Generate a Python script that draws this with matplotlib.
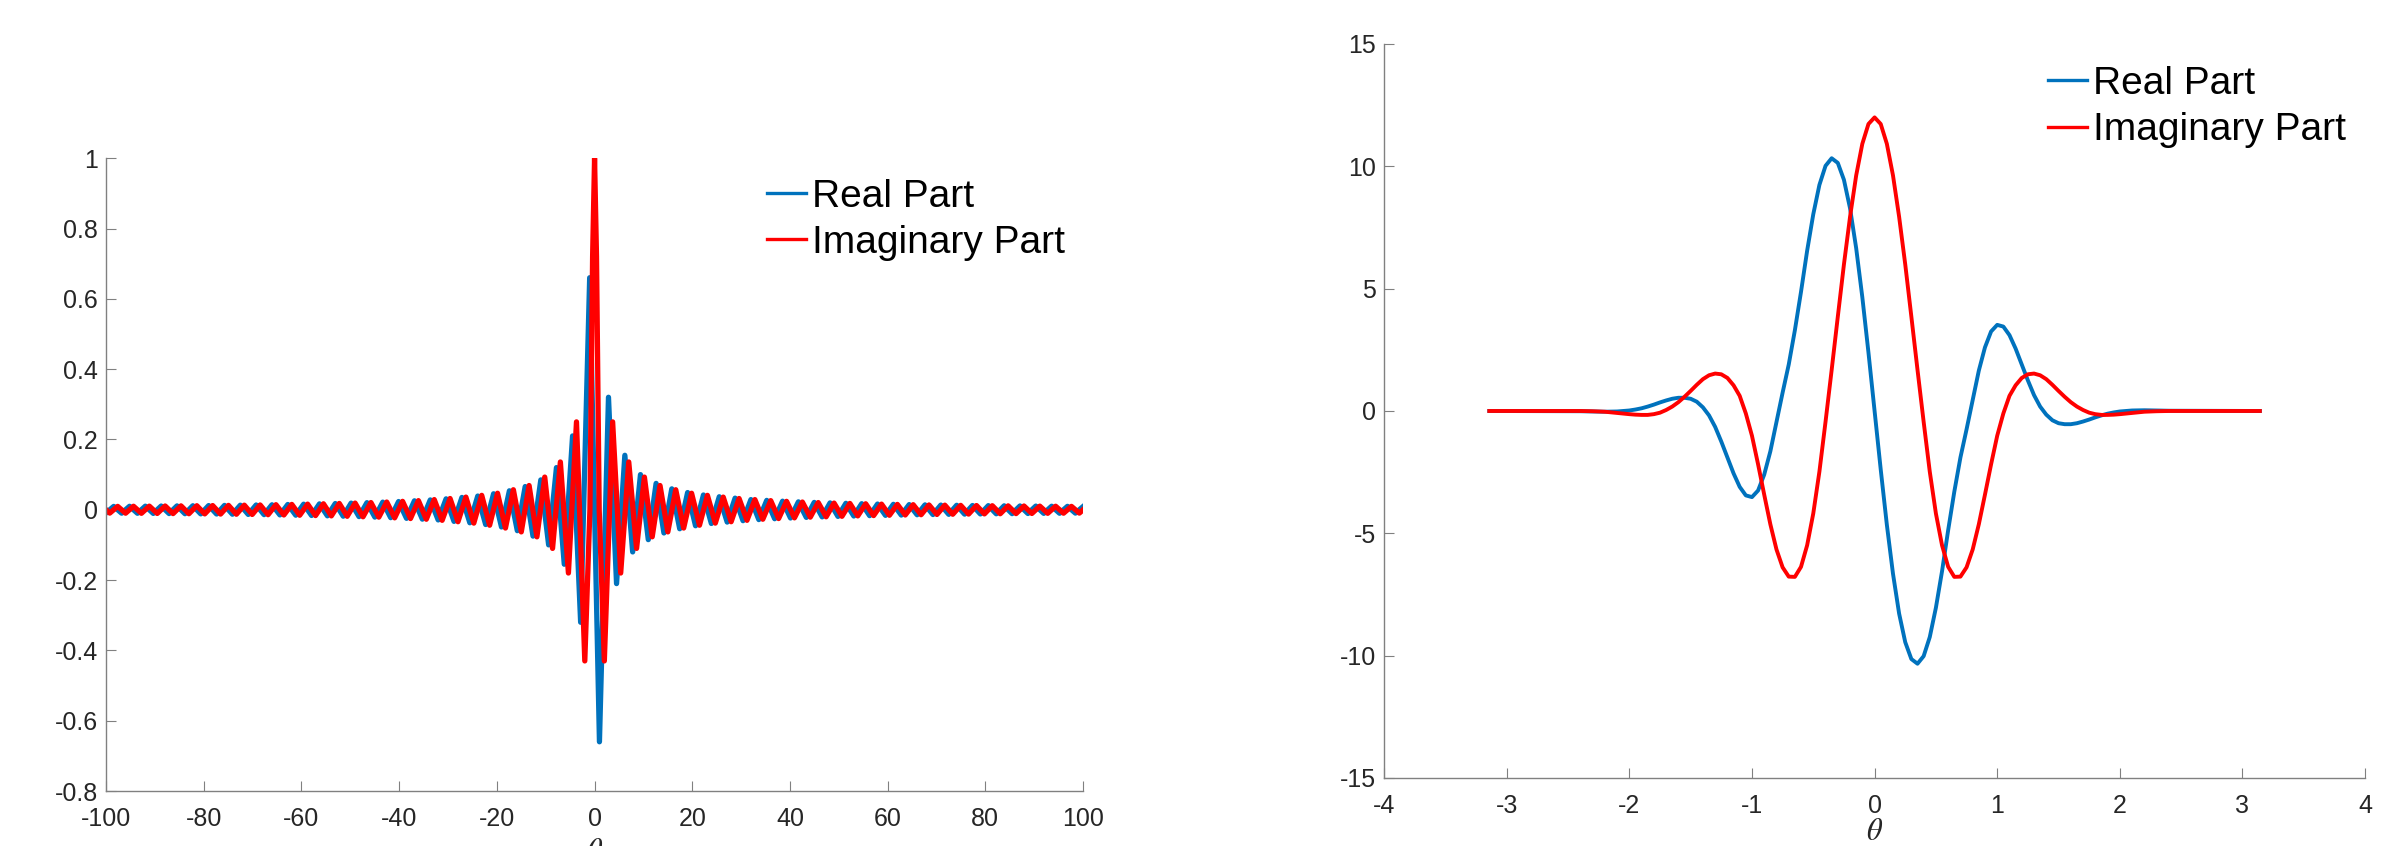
import numpy as np
import matplotlib
matplotlib.use("Agg")
import matplotlib.pyplot as plt

plt.rcParams["font.family"] = ["Liberation Sans", "DejaVu Sans"]
plt.rcParams["mathtext.fontset"] = "stix"
plt.rcParams["axes.unicode_minus"] = False

BLUE = "#0072BD"
RED = "#FF0000"
AXC = "#808080"
TXT = "#262626"

# ---- left panel: extrema (x >= 0 half, mirrored) ----
# imaginary part (even)
imag_core_x = [0.0, 0.4, 0.95, 2.0, 3.7, 5.35, 7.0, 8.6, 10.2, 11.8, 13.4]
imag_core_y = [1.0, 0.72, 0.0, -0.43, 0.25, -0.18, 0.136, -0.11, 0.093, -0.077, 0.069]
imag_tail_start = 15.0
imag_tail = [-0.063, 0.057, -0.052, 0.047, -0.044, 0.041, -0.038, 0.036, -0.034, 0.032,
             -0.030, 0.029, -0.027, 0.026, -0.025, 0.024, -0.023, 0.022, -0.021, 0.0205,
             -0.020, 0.019, -0.0186, 0.018, -0.0174, 0.017, -0.0165, 0.016, -0.0156, 0.0152,
             -0.0148, 0.0144, -0.0141, 0.0137, -0.0134, 0.0131, -0.0128, 0.0125, -0.0123, 0.012,
             -0.0118, 0.0115, -0.0113, 0.0111, -0.0109, 0.0107, -0.0105, 0.0103, -0.0101, 0.010,
             -0.0098, 0.0096, -0.0095]
imag_end = 0.0

# real part (odd)
real_core_x = [0.0, 1.0, 2.85, 4.5, 6.2, 7.8, 9.4, 11.0, 12.6, 14.2]
real_core_y = [0.0, -0.66, 0.32, -0.21, 0.155, -0.12, 0.10, -0.085, 0.075, -0.066]
real_tail_start = 15.81
real_tail = [0.0595, -0.054, 0.049, -0.0455, 0.042, -0.039, 0.037, -0.035, 0.033, -0.031,
             0.029, -0.028, 0.0267, -0.0255, 0.0244, -0.0234, 0.0225, -0.0217, 0.0209, -0.0202,
             0.0195, -0.0189, 0.0183, -0.0177, 0.0172, -0.0167, 0.0162, -0.0158, 0.0154, -0.015,
             0.0146, -0.0142, 0.0139, -0.0136, 0.0133, -0.013, 0.0127, -0.0124, 0.0121, -0.0119,
             0.0117, -0.0114, 0.0112, -0.011, 0.0108, -0.0106, 0.0104, -0.0102, 0.010, -0.0099,
             0.0097, -0.0095]
real_end = 0.009

half_period = 1.62
w_max = 100.0

# ---- right panel: samples (theta >= 0 half, mirrored) ----
theta_half = [0.0, 0.05, 0.10, 0.15, 0.20, 0.25, 0.30, 0.35, 0.40, 0.45, 0.50, 0.55, 0.60,
              0.65, 0.70, 0.75, 0.80, 0.85, 0.90, 0.95, 1.00, 1.05, 1.10, 1.15, 1.20, 1.25,
              1.30, 1.35, 1.40, 1.45, 1.50, 1.55, 1.60, 1.65, 1.70, 1.75, 1.80, 1.85, 1.90,
              1.95, 2.00, 2.10, 2.20, 2.30, 2.40, 3.1416]
psi_imag = [12.0, 11.73, 10.92, 9.63, 7.94, 5.99, 3.85, 1.68, -0.44, -2.48, -4.19, -5.49, -6.37,
            -6.78, -6.77, -6.39, -5.66, -4.63, -3.42, -2.18, -1.01, -0.1, 0.62, 1.05, 1.35, 1.50,
            1.53, 1.46, 1.30, 1.07, 0.82, 0.58, 0.36, 0.18, 0.04, -0.07, -0.13, -0.16, -0.16,
            -0.15, -0.13, -0.08, -0.03, -0.01, 0.0, 0.0]
psi_real = [0.0, -2.39, -4.65, -6.65, -8.28, -9.45, -10.14, -10.33, -10.02, -9.24, -8.04, -6.55,
            -4.87, -3.3, -1.9, -0.75, 0.45, 1.65, 2.6, 3.25, 3.52, 3.45, 3.1, 2.55, 1.9, 1.25,
            0.65, 0.18, -0.15, -0.38, -0.5, -0.54, -0.54, -0.5, -0.43, -0.35, -0.26, -0.18,
            -0.11, -0.06, -0.02, 0.02, 0.03, 0.02, 0.01, 0.0]


def mirror(x, y, odd):
    x = np.asarray(x, float)
    y = np.asarray(y, float)
    sign = -1.0 if odd else 1.0
    return (np.concatenate([-x[::-1], x[1:]]),
            np.concatenate([sign * y[::-1], y[1:]]))


imag_x = np.concatenate([imag_core_x, imag_tail_start + half_period * np.arange(len(imag_tail)), [w_max]])
imag_y = np.concatenate([imag_core_y, imag_tail, [imag_end]])
real_x = np.concatenate([real_core_x, real_tail_start + half_period * np.arange(len(real_tail)), [w_max]])
real_y = np.concatenate([real_core_y, real_tail, [real_end]])

wi, vi = mirror(imag_x, imag_y, odd=False)
wr, vr = mirror(real_x, real_y, odd=True)
th_i, pi_ = mirror(theta_half, psi_imag, odd=False)
th_r, pr_ = mirror(theta_half, psi_real, odd=True)

fig = plt.figure(figsize=(23.83, 8.46), dpi=100)
ax1 = fig.add_axes([0.0445, 0.065, 0.410, 0.748])
ax2 = fig.add_axes([0.5808, 0.0804, 0.4117, 0.8676])

ax1.plot(wr, vr, color=BLUE, lw=3.8, label="Real Part")
ax1.plot(wi, vi, color=RED, lw=3.8, label="Imaginary Part")
ax1.set_xlim(-100, 100)
ax1.set_ylim(-0.8, 1)
ax1.set_xticks(np.arange(-100, 101, 20))
ax1.set_yticks(np.arange(-0.8, 1.01, 0.2))
ax1.set_yticklabels(["-0.8", "-0.6", "-0.4", "-0.2", "0", "0.2", "0.4", "0.6", "0.8", "1"])

ax2.plot(th_r, pr_, color=BLUE, lw=2.8, label="Real Part")
ax2.plot(th_i, pi_, color=RED, lw=2.8, label="Imaginary Part")
ax2.set_xlim(-4, 4)
ax2.set_ylim(-15, 15)
ax2.set_xticks(np.arange(-4, 5, 1))
ax2.set_yticks(np.arange(-15, 16, 5))

for ax in (ax1, ax2):
    for s in ("top", "right"):
        ax.spines[s].set_visible(False)
    for s in ("left", "bottom"):
        ax.spines[s].set_color(AXC)
        ax.spines[s].set_linewidth(1.0)
    ax.tick_params(direction="in", length=7, width=0.8, color=AXC,
                   labelcolor=TXT, labelsize=18)
    ax.tick_params(axis="x", pad=11.5)
    ax.tick_params(axis="y", pad=6)

ax1.set_xlabel(r"$\theta$", fontsize=22, color=TXT, labelpad=4)
ax2.set_xlabel(r"$\theta$", fontsize=22, color=TXT, labelpad=-1)

leg_kw = dict(frameon=False, fontsize=28, handlelength=1.0, handletextpad=0.15,
              labelspacing=0.27, borderpad=0, borderaxespad=0, loc="upper left",
              bbox_transform=fig.transFigure)
leg1 = ax1.legend(bbox_to_anchor=(0.3219, 0.789), **leg_kw)
leg2 = ax2.legend(bbox_to_anchor=(0.8594, 0.922), **leg_kw)
for line in leg1.get_lines() + leg2.get_lines():
    line.set_linewidth(2.4)

fig.savefig("out.png", dpi=100)
